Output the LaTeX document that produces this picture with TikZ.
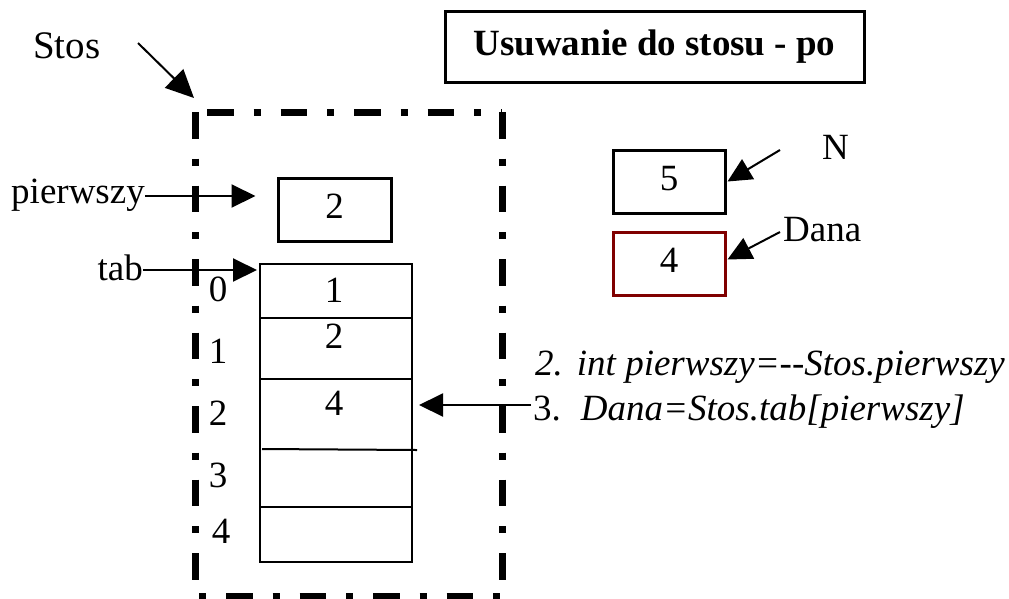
\documentclass[tikz,border=0pt]{standalone}
\usepackage{fontspec}
\setmainfont{Liberation Serif}
\usetikzlibrary{arrows.meta}
\definecolor{danared}{RGB}{128,0,0}
\begin{document}
\begin{tikzpicture}[x=1pt,y=-1pt,
  every node/.style={inner sep=0pt, font=\fontsize{37}{44}\selectfont},
  valbox/.style={draw, line width=3pt, minimum width=112pt, minimum height=63pt,
                 text height=25pt, text depth=8pt},
  arr/.style={line width=2pt, -{Triangle[length=24pt,width=23pt]}},
  bigarr/.style={line width=2pt, -{Triangle[length=28pt,width=26pt]}},
  stackline/.style={line width=7pt, dash pattern=on 26.5pt off 20pt on 7pt off 20pt},
  stackline2/.style={line width=7pt, dash pattern=on 7pt off 20pt on 26.5pt off 20pt},
  row/.style={line width=2pt}]
\useasboundingbox (0,0) rectangle (1009,598);

% title
\node[draw, line width=3pt, minimum width=419pt, minimum height=71pt,
      text height=25pt, text depth=8pt] (title) at (654.5,46.5)
      {\bfseries Usuwanie do stosu - po};

% the Stos structure, drawn as a dash-dot frame
\coordinate (frameNW) at (195,112);
\coordinate (frameNE) at (502,112);
\coordinate (frameSW) at (195,596);
\coordinate (frameSE) at (502,596);
\draw[stackline] ([xshift=12pt]frameNW) -- (frameNE);
\draw[stackline] (frameNW) -- (frameSW);
\draw[stackline] (frameNE) -- (frameSE);
\draw[stackline2] ([xshift=4pt]frameSW) -- (frameSE);

\node[anchor=base west, font=\fontsize{39}{46}\selectfont] (stos) at (33,58) {Stos};
\coordinate (stosFrom) at (138,43);
\coordinate (stosTip) at (194,98);
\draw[bigarr] (stosFrom) -- (stosTip);

% field pierwszy
\node[valbox, minimum width=113pt] (pbox) at (334.5,209.5) {2};
\node[anchor=base east] (plbl) at (145,203) {pierwszy};
\draw[arr] ([yshift=7pt]plbl.base east) -- ([yshift=7pt,xshift=-21pt]plbl.base east -| pbox.west);

% field tab
\node[draw, line width=2pt, minimum width=152pt, minimum height=298pt] (tab) at (336,413) {};
\draw[row] (tab.west |- 0,318) -- (tab.east |- 0,318);
\draw[row] (tab.west |- 0,379) -- (tab.east |- 0,379);
\draw[row] ([xshift=3pt]tab.west |- 0,449) -- ([xshift=4pt]tab.east |- 0,450);
\draw[row] (tab.west |- 0,507) -- (tab.east |- 0,507);
\node[anchor=base east] (tlbl) at (143,280) {tab};
\draw[arr] ([yshift=10pt]tlbl.base east) -- ([yshift=10pt,xshift=-2pt]tlbl.base east -| tab.west);

% cell values
\node[anchor=base] (v0) at (334,302) {1};
\node[anchor=base] (v1) at (334,348) {2};
\node[anchor=base] (v2) at (334,415) {4};

% indices
\node[anchor=base] (i0) at (218,301) {0};
\node[anchor=base] (i1) at (218,363) {1};
\node[anchor=base] (i2) at (218,425) {2};
\node[anchor=base] (i3) at (218,487) {3};
\node[anchor=base] (i4) at (221,543) {4};

% variables N and Dana
\node[valbox] (nbox) at (669,181.5) {5};
\node[valbox, draw=danared] (dbox) at (669,263.5) {4};
\node[anchor=base west] (nlbl) at (822,159) {N};
\node[anchor=base west] (dlbl) at (783,241) {Dana};
\coordinate (nFrom) at (780,150);
\draw[arr] (nFrom) -- ([xshift=1pt]nbox.east);
\draw[arr] ([xshift=-3pt,yshift=9pt]dlbl.base west) -- ([xshift=1pt,yshift=4pt]dbox.east);

% steps
\node[anchor=base west] (s2) at (535,375)
  {\itshape 2.\hspace{14pt}int pierwszy=-{}-Stos.pierwszy};
\node[anchor=base west] (s3) at (533,420)
  {3.\hspace{20pt}\itshape Dana=Stos.tab[pierwszy]};
\draw[arr] ([yshift=15pt,xshift=-2pt]s3.base west) -- ([yshift=15pt,xshift=6pt]s3.base west -| tab.east);
\end{tikzpicture}
\end{document}
